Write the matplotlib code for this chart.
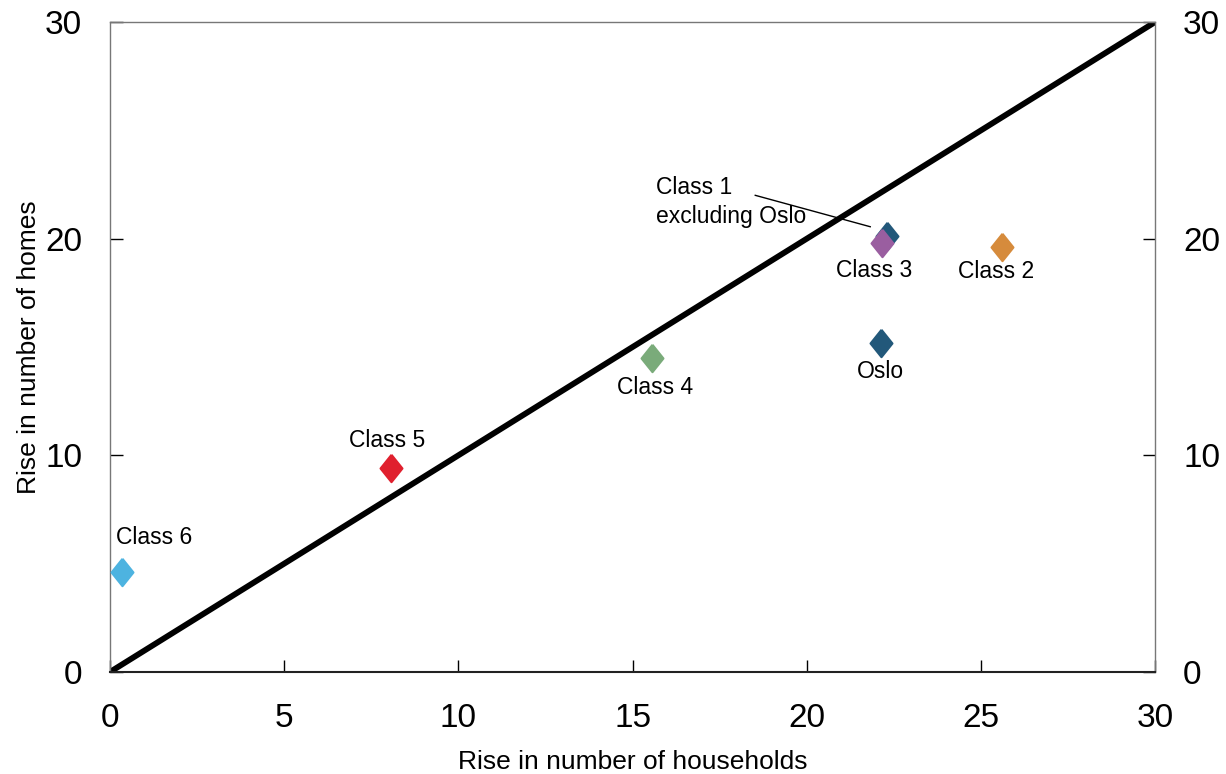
import matplotlib.pyplot as plt

plt.rcParams['font.family'] = ['Liberation Sans', 'DejaVu Sans']

# Data
names = ["Class 6", "Class 5", "Class 4", "Oslo", "Class 1 excluding Oslo", "Class 3", "Class 2"]
households = [0.35, 8.07, 15.56, 22.13, 22.3, 22.17, 25.6]
homes = [4.6, 9.4, 14.5, 15.2, 20.1, 19.8, 19.6]
colors = ["#4db3e0", "#e0202e", "#7aab7a", "#22587a", "#22587a", "#9a5ea0", "#d68b3c"]

label_text = ["Class 6", "Class 5", "Class 4", "Oslo", "Class 3", "Class 2"]
label_x = [1.28, 7.95, 15.65, 22.1, 21.93, 25.44]
label_y = [6.2, 10.7, 13.15, 13.85, 18.55, 18.5]

fig = plt.figure(figsize=(12.26, 7.74), dpi=100)
ax = fig.add_axes([0.0897, 0.1318, 0.8526, 0.8398])

# 45 degree line
ax.plot([0, 30], [0, 30], color="black", lw=4.2, solid_capstyle="round", zorder=2)

diamond = [(0, 1), (0.8, 0), (0, -1), (-0.8, 0), (0, 1)]
for x, y, c in zip(households, homes, colors):
    ax.scatter(x, y, s=390, marker=diamond, color=c, edgecolor=c, linewidth=1.5,
               zorder=3)

for t, x, y in zip(label_text, label_x, label_y):
    ax.text(x, y, t, ha="center", va="center", fontsize=16.5)

ax.text(15.68, 21.7, "Class 1\nexcluding Oslo", ha="left", va="center",
        fontsize=16.5, linespacing=1.35)
ax.plot([18.52, 21.82], [22.0, 20.55], color="black", lw=1, zorder=4)

ax.set_xlim(0, 30)
ax.set_ylim(0, 30)
ax.set_xticks([0, 5, 10, 15, 20, 25, 30])
ax.set_yticks([0, 10, 20, 30])
ax.tick_params(axis="x", direction="in", length=9, width=1, labelsize=24, pad=22)
ax.tick_params(axis="y", direction="in", length=9, width=1, labelsize=24, pad=20,
               right=True, labelright=True)

for s in ["left", "top", "right"]:
    ax.spines[s].set_color("#777777")
    ax.spines[s].set_linewidth(1)
ax.spines["bottom"].set_color("#222222")
ax.spines["bottom"].set_linewidth(1.5)

ax.set_xlabel("Rise in number of households", fontsize=19, labelpad=12)
ax.set_ylabel("Rise in number of homes", fontsize=19, labelpad=3)

fig.savefig("out.png", dpi=100)
